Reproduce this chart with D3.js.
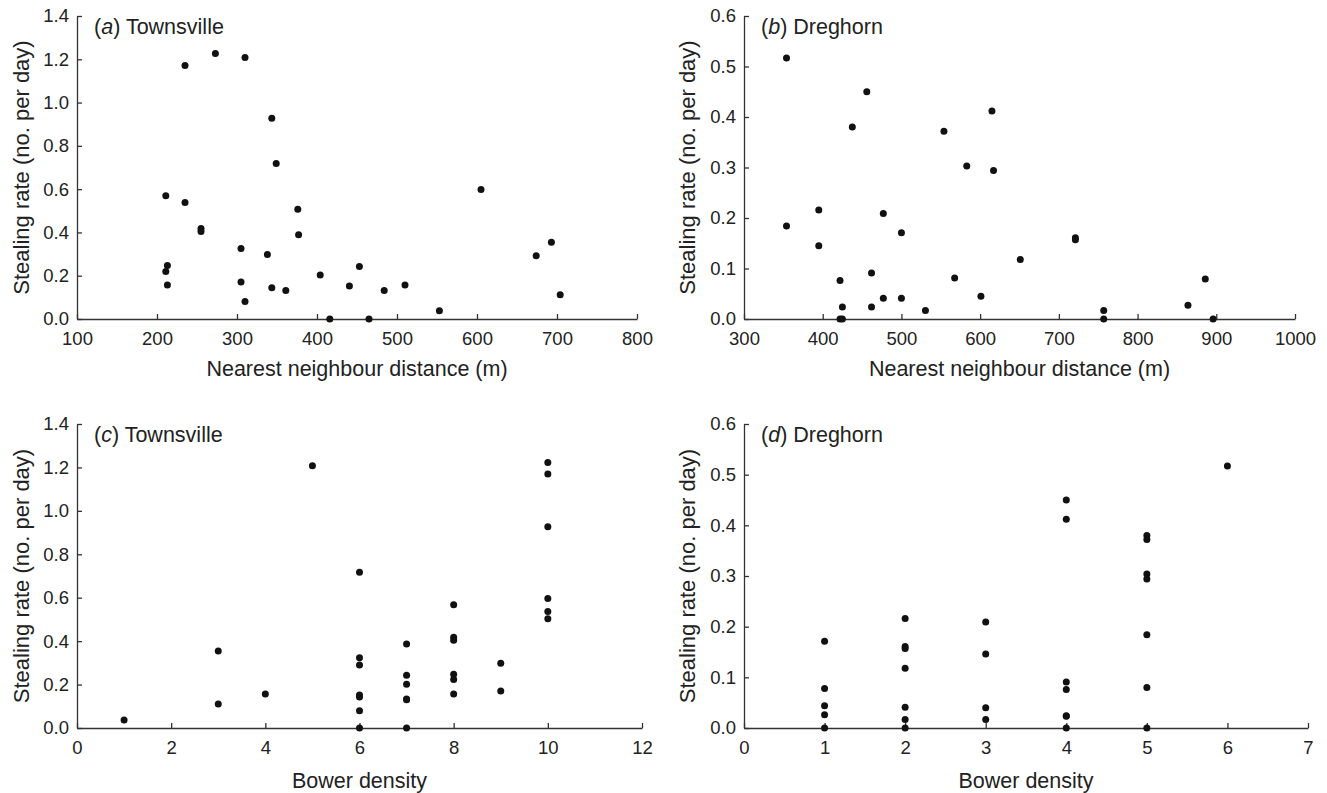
<!DOCTYPE html>
<html>
<head>
<meta charset="utf-8">
<script src="https://cdn.jsdelivr.net/npm/d3@7"></script>
<style>
  body { margin: 0; background: #fff; }
  svg text { font-family: "Liberation Sans", Arial, sans-serif; fill: #222; }
  .axis path, .axis line { stroke: #333; stroke-width: 1.3; }
  .dot { fill: #111; }
</style>
</head>
<body>
<div id="chart"></div>
<script>
// (a) Townsville: nearest neighbour distance vs stealing rate
var a_distance = [211, 211, 213, 213, 235, 235, 255, 255, 273, 310, 305, 305, 310, 338, 343.5, 343.5,
                  349, 361, 376, 377, 404, 416, 440.5, 453, 465, 484, 510, 553, 605, 674, 693, 704]
var a_rate = [0.57, 0.22, 0.247, 0.157, 1.171, 0.538, 0.418, 0.404, 1.227, 1.208, 0.326, 0.171, 0.081, 0.298, 0.927, 0.144,
              0.718, 0.132, 0.507, 0.389, 0.203, 0, 0.152, 0.243, 0, 0.132, 0.157, 0.038, 0.598, 0.292, 0.355, 0.112]

// (b) Dreghorn: nearest neighbour distance vs stealing rate
var b_distance = [354, 354, 395, 395, 422, 425, 422, 425, 437.6, 456, 462, 462, 477, 477, 500, 500,
                  530.5, 554, 567.6, 583, 601, 615, 617, 651, 721, 721, 757, 757, 864, 886, 896]
var b_rate = [0.517, 0.184, 0.216, 0.145, 0.076, 0.024, 0, 0, 0.38, 0.45, 0.091, 0.024, 0.209, 0.041, 0.171, 0.041,
              0.017, 0.372, 0.081, 0.303, 0.045, 0.412, 0.294, 0.118, 0.161, 0.157, 0.017, 0, 0.027, 0.079, 0]

// (c) Townsville: bower density vs stealing rate
var c_density = [1, 3, 3, 4, 5, 6, 6, 6, 6, 6, 6, 6, 7, 7, 7, 7, 7, 7, 8, 8, 8, 8, 8, 8, 9, 9, 10, 10, 10, 10, 10, 10]
var c_rate = [0.037, 0.355, 0.11, 0.157, 1.208, 0.717, 0.324, 0.29, 0.152, 0.143, 0.08, 0, 0.387, 0.243, 0.201, 0.134, 0.13, 0,
              0.568, 0.418, 0.404, 0.247, 0.223, 0.157, 0.298, 0.17, 1.223, 1.17, 0.927, 0.596, 0.536, 0.503]

// (d) Dreghorn: bower density vs stealing rate
var d_density = [1, 1, 1, 1, 1, 2, 2, 2, 2, 2, 2, 2, 3, 3, 3, 3, 4, 4, 4, 4, 4, 4, 4, 5, 5, 5, 5, 5, 5, 5, 6]
var d_rate = [0.171, 0.078, 0.044, 0.026, 0, 0.216, 0.161, 0.157, 0.118, 0.041, 0.017, 0, 0.209, 0.146, 0.04, 0.017,
              0.45, 0.412, 0.091, 0.076, 0.024, 0.023, 0, 0.38, 0.372, 0.304, 0.294, 0.184, 0.08, 0, 0.517]

var townsville_y_ticks = [0, 0.2, 0.4, 0.6, 0.8, 1.0, 1.2, 1.4]
var dreghorn_y_ticks = [0, 0.1, 0.2, 0.3, 0.4, 0.5, 0.6]
var a_x_ticks = [100, 200, 300, 400, 500, 600, 700, 800]
var b_x_ticks = [300, 400, 500, 600, 700, 800, 900, 1000]
var c_x_ticks = [0, 2, 4, 6, 8, 10, 12]
var d_x_ticks = [0, 1, 2, 3, 4, 5, 6, 7]

var svg = d3.select("#chart").append("svg")
  .attr("width", 1327)
  .attr("height", 793)

function drawPanel(p) {
  var g = svg.append("g")

  var x = d3.scaleLinear()
    .domain([p.xTicks[0], p.xTicks[p.xTicks.length - 1]])
    .range([p.left, p.right])
  var y = d3.scaleLinear()
    .domain([p.yTicks[0], p.yTicks[p.yTicks.length - 1]])
    .range([p.bottom, p.top])

  // inward ticks on both axes
  var xAxis = g.append("g")
    .attr("class", "axis")
    .attr("transform", "translate(0," + p.bottom + ")")
    .call(d3.axisBottom(x).tickValues(p.xTicks).tickSizeInner(-5).tickSizeOuter(0).tickPadding(13)
      .tickFormat(d3.format("d")))
  var yAxis = g.append("g")
    .attr("class", "axis")
    .attr("transform", "translate(" + p.left + ",0)")
    .call(d3.axisLeft(y).tickValues(p.yTicks).tickSizeInner(-5).tickSizeOuter(0).tickPadding(8)
      .tickFormat(d3.format(".1f")))

  g.selectAll(".axis text").style("font-size", "18.5px")
  xAxis.selectAll("text").attr("dy", "0.71em")

  g.append("text")
    .attr("x", (p.left + p.right) / 2)
    .attr("y", p.xTitleY)
    .attr("text-anchor", "middle")
    .style("font-size", "21.5px")
    .text(p.xTitle)

  g.append("text")
    .attr("transform", "translate(" + p.yTitleX + "," + (p.top + p.bottom) / 2 + ") rotate(-90)")
    .attr("text-anchor", "middle")
    .attr("dy", "0.35em")
    .style("font-size", "22px")
    .text("Stealing rate (no. per day)")

  var label = g.append("text")
    .attr("x", p.left + 17)
    .attr("y", p.top + 18)
    .style("font-size", "21.5px")
  label.append("tspan").text("(")
  label.append("tspan").style("font-style", "italic").text(p.letter)
  label.append("tspan").text(") " + p.site)

  g.selectAll(".dot")
    .data(p.xs)
    .enter().append("circle")
      .attr("class", "dot")
      .attr("cx", function (d) { return x(d) })
      .attr("cy", function (d, i) { return y(p.ys[i]) })
      .attr("r", 3.5)
}

drawPanel({ letter: "a", site: "Townsville", xs: a_distance, ys: a_rate, xTicks: a_x_ticks, yTicks: townsville_y_ticks,
  left: 77, right: 637, top: 16, bottom: 319, xTitle: "Nearest neighbour distance (m)", xTitleY: 376, yTitleX: 21 })
drawPanel({ letter: "b", site: "Dreghorn", xs: b_distance, ys: b_rate, xTicks: b_x_ticks, yTicks: dreghorn_y_ticks,
  left: 744, right: 1295, top: 16, bottom: 319, xTitle: "Nearest neighbour distance (m)", xTitleY: 376, yTitleX: 687 })
drawPanel({ letter: "c", site: "Townsville", xs: c_density, ys: c_rate, xTicks: c_x_ticks, yTicks: townsville_y_ticks,
  left: 77, right: 642, top: 424, bottom: 728, xTitle: "Bower density", xTitleY: 788, yTitleX: 21 })
drawPanel({ letter: "d", site: "Dreghorn", xs: d_density, ys: d_rate, xTicks: d_x_ticks, yTicks: dreghorn_y_ticks,
  left: 744, right: 1308, top: 424, bottom: 728, xTitle: "Bower density", xTitleY: 788, yTitleX: 687 })
</script>
</body>
</html>
